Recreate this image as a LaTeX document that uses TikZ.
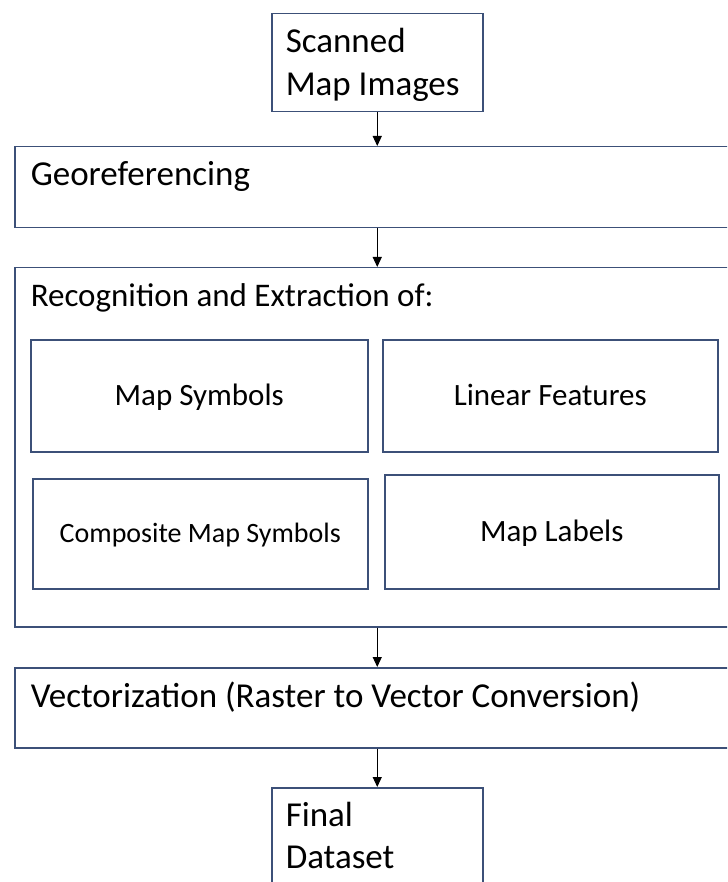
\documentclass[tikz,border=0pt]{standalone}
\usepackage{fontspec}
\setmainfont{Carlito}
\usetikzlibrary{arrows.meta}
\definecolor{boxline}{HTML}{3C5078}
\tikzset{
  box/.style={draw=boxline, line width=1.5pt, fill=white, inner ysep=0pt, anchor=north west},
  bigbox/.style={box, inner xsep=16pt, text width=694pt, align=flush left, minimum width=726pt},
  smallbox/.style={box, inner xsep=14pt, text width=183pt, align=flush left, minimum width=211pt},
  inbox/.style={draw=boxline, line width=1.5pt, fill=white, anchor=north west, align=center, inner sep=0pt, text depth=0pt},
  arr/.style={draw=black, line width=1.1pt, -{Triangle[length=10pt,width=9pt]}}
}
\begin{document}
\begin{tikzpicture}[x=1pt,y=-1pt]
\useasboundingbox (0,0) rectangle (727,882);
\clip (0,0) rectangle (727,882);
\fill[white] (0,0) rectangle (727,882);
% top box
\node[smallbox, text height=39pt, text depth=59pt, font=\fontsize{35}{43}\selectfont] (scan) at (271,13) {Scanned\\Map Images};
% georeferencing
\node[bigbox, text height=39pt, text depth=42pt, font=\fontsize{35}{43}\selectfont] (geo) at (14,146) {Georeferencing};
% recognition
\node[bigbox, text height=39pt, text depth=320pt, font=\fontsize{33}{40}\selectfont] (rec) at (14,267) {Recognition and Extraction of:};
% inner boxes
\node[inbox, minimum width=337pt, minimum height=112pt, text height=20pt, font=\fontsize{31}{37}\selectfont] (sym) at (30,339) {Map Symbols};
\node[inbox, minimum width=335pt, minimum height=112pt, text height=20pt, font=\fontsize{31}{37}\selectfont] (lin) at (382,339) {Linear Features};
\node[inbox, minimum width=335pt, minimum height=110pt, text height=18pt, font=\fontsize{28}{34}\selectfont] (comp) at (32,478) {Composite Map Symbols};
\node[inbox, minimum width=334pt, minimum height=114pt, text height=20pt, font=\fontsize{31}{37}\selectfont] (lab) at (384,474) {Map Labels};
% vectorization
\node[bigbox, text height=40pt, text depth=40pt, font=\fontsize{35}{43}\selectfont] (vec) at (14,667) {Vectorization (Raster to Vector Conversion)};
% final
\node[smallbox, text height=39pt, text depth=81pt, font=\fontsize{35}{42}\selectfont] (fin) at (271,787) {Final\\Dataset};
% arrows
\draw[arr] (scan.south) -- (scan.south |- geo.north);
\draw[arr] (scan.south |- geo.south) -- (scan.south |- rec.north);
\draw[arr] (scan.south |- rec.south) -- (scan.south |- vec.north);
\draw[arr] (scan.south |- vec.south) -- (fin.north);
\end{tikzpicture}
\end{document}
